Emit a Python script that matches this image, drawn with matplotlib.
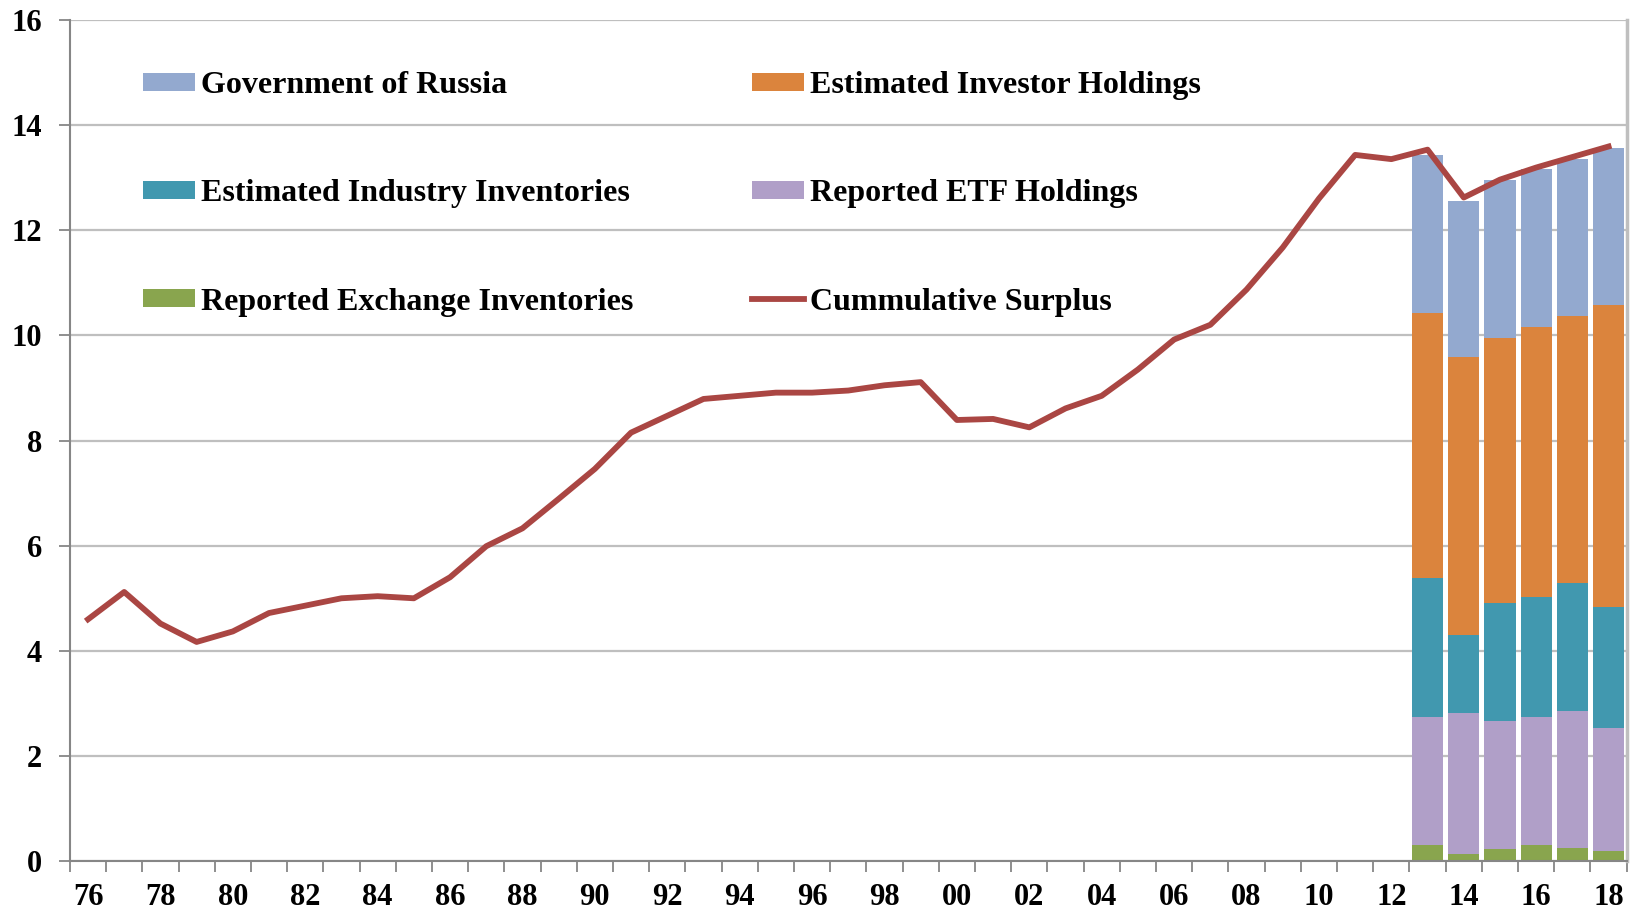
import numpy as np
import matplotlib
matplotlib.use("Agg")
import matplotlib.pyplot as plt

plt.rcParams['font.family'] = ['Liberation Serif', 'DejaVu Serif']
plt.rcParams['font.weight'] = 'bold'

# years 1976 - 2018
years = list(range(1976, 2019))
year_labels = [str(y)[2:] for y in years]

# cumulative surplus line
surplus = [4.60, 5.12, 4.52, 4.17, 4.37, 4.72, 4.86, 5.00, 5.04, 5.00,
           5.40, 5.99, 6.33, 6.89, 7.46, 8.15, 8.47, 8.79, 8.85, 8.91,
           8.91, 8.95, 9.05, 9.11, 8.39, 8.41, 8.25, 8.61, 8.85, 9.35,
           9.92, 10.20, 10.87, 11.67, 12.60, 13.43, 13.35, 13.53, 12.62, 12.96,
           13.19, 13.39, 13.59]

# stacked bars 2013 - 2018
bar_years = [2013, 2014, 2015, 2016, 2017, 2018]
exchange = [0.31, 0.14, 0.24, 0.31, 0.25, 0.20]
etf = [2.43, 2.68, 2.43, 2.43, 2.60, 2.33]
industry = [2.65, 1.49, 2.24, 2.28, 2.45, 2.30]
investor = [5.04, 5.27, 5.04, 5.14, 5.07, 5.74]
russia = [2.99, 2.98, 3.00, 3.00, 2.99, 2.99]

c_russia = '#93A9CF'
c_investor = '#DB843D'
c_industry = '#4198AF'
c_etf = '#B09FC8'
c_exchange = '#89A54E'
c_line = '#AA4643'

fig = plt.figure(figsize=(16.37, 9.14), dpi=100)
ax = fig.add_axes([0.0427, 0.0577, 0.951, 0.9207])

x_line = np.arange(len(years))
x_bar = np.array([years.index(y) for y in bar_years])

bottom = np.zeros(len(bar_years))
handles = {}
for name, vals, col in [('Reported Exchange Inventories', exchange, c_exchange),
                        ('Reported ETF Holdings', etf, c_etf),
                        ('Estimated Industry Inventories', industry, c_industry),
                        ('Estimated Investor Holdings', investor, c_investor),
                        ('Government of Russia', russia, c_russia)]:
    handles[name] = ax.bar(x_bar, vals, width=0.86, bottom=bottom, color=col, zorder=2, label=name)
    bottom += np.array(vals)

line, = ax.plot(x_line, surplus, color=c_line, lw=4.2, zorder=3, label='Cummulative Surplus')
handles['Cummulative Surplus'] = line

ax.set_xlim(-0.5, len(years) - 0.5)
ax.set_ylim(0, 16)
ax.set_yticks(range(0, 17, 2))
ax.set_xticks(x_line[::2])
ax.set_xticklabels(year_labels[::2])
ax.set_xticks(np.arange(-0.5, len(years), 1), minor=True)
ax.tick_params(axis='x', which='major', length=0, pad=16, labelsize=22)
ax.tick_params(axis='x', which='minor', length=8, width=1.3, color='#868686')
ax.tick_params(axis='y', length=8, width=1.3, color='#868686', pad=12, labelsize=22)

ax.grid(axis='y', color='#BFBFBF', lw=1.6, zorder=0)
ax.set_axisbelow(True)
for s in ['left', 'bottom']:
    ax.spines[s].set_color('#868686')
    ax.spines[s].set_linewidth(1.5)
ax.spines['top'].set_visible(False)
ax.spines['right'].set_color('#BFBFBF')
ax.spines['right'].set_linewidth(2.5)

order = ['Government of Russia', 'Estimated Industry Inventories', 'Reported Exchange Inventories',
         'Estimated Investor Holdings', 'Reported ETF Holdings', 'Cummulative Surplus']
leg = ax.legend([handles[n] for n in order], order, ncol=2, loc='upper left',
                bbox_to_anchor=(0.047, 0.939), frameon=False, fontsize=23,
                handlelength=1.62, handleheight=0.47, handletextpad=0.2,
                labelspacing=2.48, columnspacing=3.7, borderpad=0, borderaxespad=0)

fig.savefig('out.png', dpi=100)
